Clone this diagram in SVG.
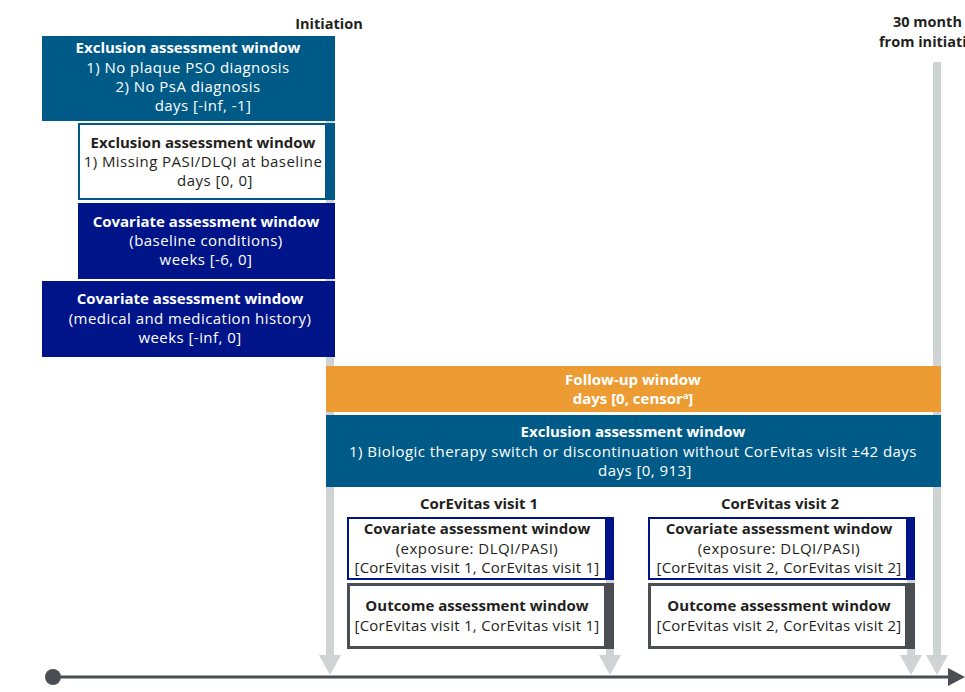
<svg xmlns="http://www.w3.org/2000/svg" width="965" height="692" viewBox="0 0 965 692">
<style>
text{font-family:"Open Sans","Liberation Sans",sans-serif;font-size:15px;text-anchor:middle;letter-spacing:0.45px}
.b{font-weight:700;letter-spacing:0}
.h{font-size:14.5px}
.n{letter-spacing:0.25px}
.w{fill:#ffffff}
.d{fill:#231f20}
.teal{fill:#005a87}
.navy{fill:#001489}
.orange{fill:#ed9c33}
.vline{fill:#d0d3d4}
.ahead{fill:#d0d3d4}
</style>
<rect width="965" height="692" fill="#ffffff"/>
<g id="connectors">
  <rect class="vline" x="326" y="36" width="8" height="620"/>
  <polygon class="ahead" points="319,655 341,655 330,675"/>
  <rect class="vline" x="606" y="518" width="8" height="138"/>
  <polygon class="ahead" points="599,655 621,655 610,675"/>
  <rect class="vline" x="907" y="518" width="8" height="138"/>
  <polygon class="ahead" points="900,655 922,655 911,675"/>
  <rect class="vline" x="933" y="62" width="8" height="594"/>
  <polygon class="ahead" points="926,655 948,655 937,675"/>
  <line x1="53" y1="677" x2="950" y2="677" stroke="#4a4d52" stroke-width="3"/>
  <circle cx="53" cy="677" r="8" fill="#4a4d52"/>
  <polygon points="948,668 965,677 948,686" fill="#4a4d52"/>
</g>
<g id="label-initiation">
  <text class="b d h" x="329" y="29">Initiation</text>
</g>
<g id="label-30months">
  <text class="b d h" x="893" y="27" style="text-anchor:start">30 month</text>
  <text class="b d h" x="879" y="47" style="text-anchor:start">from initiati</text>
</g>
<g id="excl1">
  <rect class="teal" x="42" y="36" width="293" height="85"/>
  <text class="b w" x="188" y="53">Exclusion assessment window</text>
  <text class="w" x="188" y="73">1) No plaque PSO diagnosis</text>
  <text class="w" x="188" y="92">2) No PsA diagnosis</text>
  <text class="w" x="203" y="111">days [-inf, -1]</text>
</g>
<g id="excl2">
  <rect class="teal" x="78" y="123" width="257" height="77"/>
  <rect x="79" y="124" width="247" height="75" fill="#ffffff" stroke="#005a87" stroke-width="2"/>
  <text class="b d" x="203" y="148">Exclusion assessment window</text>
  <text class="d" x="203" y="167">1) Missing PASI/DLQI at baseline</text>
  <text class="d" x="215" y="186">days [0, 0]</text>
</g>
<g id="cov1">
  <rect class="navy" x="78" y="203" width="257" height="76"/>
  <text class="b w" x="206" y="227">Covariate assessment window</text>
  <text class="w" x="206" y="246">(baseline conditions)</text>
  <text class="w" x="206" y="265">weeks [-6, 0]</text>
</g>
<g id="cov2">
  <rect class="navy" x="42" y="281" width="293" height="76"/>
  <text class="b w" x="190" y="304">Covariate assessment window</text>
  <text class="w" x="190" y="324">(medical and medication history)</text>
  <text class="w" x="190" y="343">weeks [-inf, 0]</text>
</g>
<g id="followup">
  <rect class="orange" x="326" y="366" width="615" height="46"/>
  <text class="b w" x="633" y="385">Follow-up window</text>
  <text class="b w" x="633" y="404">days [0, censor<tspan dy="-5" font-size="9">a</tspan><tspan dy="5">]</tspan></text>
</g>
<g id="excl3">
  <rect class="teal" x="326" y="415" width="615" height="72"/>
  <text class="b w" x="633" y="437">Exclusion assessment window</text>
  <text class="w" x="633" y="457">1) Biologic therapy switch or discontinuation without CorEvitas visit ±42 days</text>
  <text class="w" x="645" y="476">days [0, 913]</text>
</g>
<g id="visit1-label">
  <text class="b d" x="479" y="509">CorEvitas visit 1</text>
</g>
<g id="visit2-label">
  <text class="b d" x="780" y="509">CorEvitas visit 2</text>
</g>
<g id="cov-v1">
  <rect class="navy" x="347" y="517" width="267" height="63"/>
  <rect x="348" y="518" width="258" height="61" fill="#ffffff" stroke="#001489" stroke-width="2"/>
  <text class="b d" x="477" y="534">Covariate assessment window</text>
  <text class="d" x="477" y="554">(exposure: DLQI/PASI)</text>
  <text class="d n" x="477" y="573">[CorEvitas visit 1, CorEvitas visit 1]</text>
</g>
<g id="out-v1">
  <rect x="347" y="583" width="267" height="66" fill="#4a4d52"/>
  <rect x="348.5" y="584.5" width="257" height="63" fill="#ffffff" stroke="#4a4d52" stroke-width="3"/>
  <text class="b d" x="477" y="611">Outcome assessment window</text>
  <text class="d n" x="477" y="631">[CorEvitas visit 1, CorEvitas visit 1]</text>
</g>
<g id="cov-v2">
  <rect class="navy" x="648" y="517" width="267" height="63"/>
  <rect x="649" y="518" width="258" height="61" fill="#ffffff" stroke="#001489" stroke-width="2"/>
  <text class="b d" x="779" y="534">Covariate assessment window</text>
  <text class="d" x="779" y="554">(exposure: DLQI/PASI)</text>
  <text class="d n" x="779" y="573">[CorEvitas visit 2, CorEvitas visit 2]</text>
</g>
<g id="out-v2">
  <rect x="648" y="583" width="267" height="66" fill="#4a4d52"/>
  <rect x="649.5" y="584.5" width="257" height="63" fill="#ffffff" stroke="#4a4d52" stroke-width="3"/>
  <text class="b d" x="779" y="611">Outcome assessment window</text>
  <text class="d n" x="779" y="631">[CorEvitas visit 2, CorEvitas visit 2]</text>
</g>
</svg>
